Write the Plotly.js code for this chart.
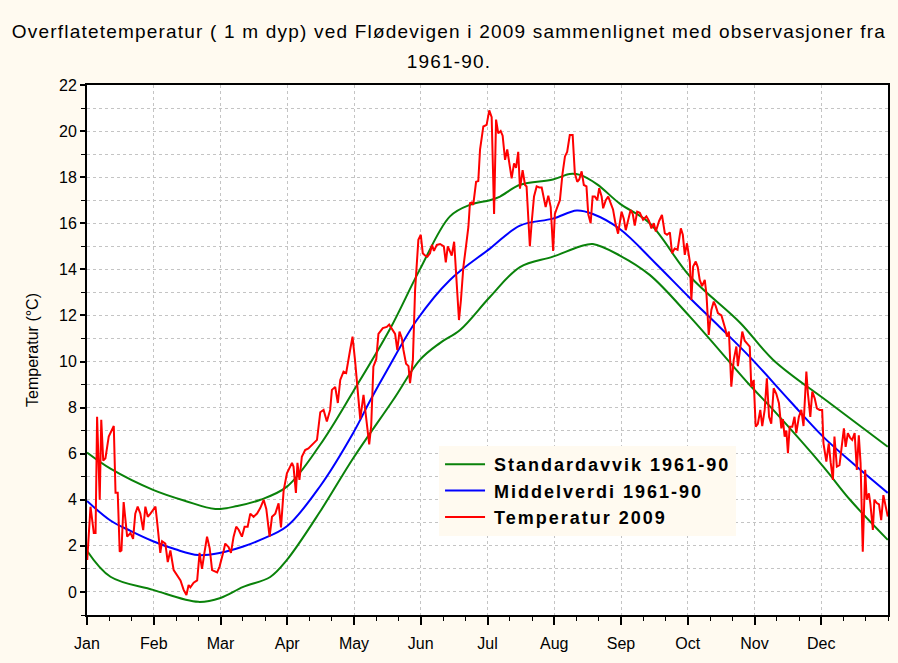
<!DOCTYPE html>
<html>
<head>
<meta charset="utf-8">
<script src="https://cdn.plot.ly/plotly-3.0.1.min.js"></script>
<style>
html,body{margin:0;padding:0;background:#FFFAF0;}
#chart{width:898px;height:663px;}
.gtitle{letter-spacing:1.2px;}
.legendtext{letter-spacing:2px;}
</style>
</head>
<body>
<div id="chart"></div>
<script>
// Month labels (x axis: day of year, months equally spaced)
var monthLabels = ["Jan","Feb","Mar","Apr","May","Jun","Jul","Aug","Sep","Oct","Nov","Dec"];

// Middelverdi 1961-90 (blue)
var meanDay = [0, 10.7, 19.8, 30.1, 40.3, 50.7, 60.8, 71.2, 79, 91.1, 106.3, 121.3, 129, 136.6, 150.3, 165.4, 183.6, 197.3, 212.3, 223.2, 230.5, 242.8, 258.7, 274.7, 288.3, 302, 320.2, 335.5, 350, 364.9];
var meanVal = [3.95, 3.1, 2.65, 2.2, 1.85, 1.6, 1.7, 1.97, 2.26, 2.85, 4.6, 6.9, 8.3, 9.6, 11.8, 13.54, 14.9, 15.9, 16.2, 16.55, 16.4, 15.75, 14.3, 12.76, 11.5, 10.2, 8.3, 6.73, 5.5, 4.3];

// Standardavvik 1961-90 upper (green)
var upperDay = [0, 10.7, 30.1, 44.8, 58.5, 68.5, 79, 91.1, 106.3, 121.3, 138, 151.7, 165.4, 174.5, 183.6, 188.2, 197.3, 212.3, 220, 224.6, 232.3, 242.8, 256.4, 274.7, 297.7, 312.7, 338.4, 364.9];
var upperVal = [6.05, 5.35, 4.43, 3.95, 3.6, 3.73, 4.0, 4.57, 6.4, 8.7, 11.4, 14.0, 16.3, 16.8, 17.0, 17.16, 17.67, 17.9, 18.14, 18.1, 17.7, 16.85, 16.0, 13.7, 11.67, 10.07, 8.2, 6.3];

// Standardavvik 1961-90 lower (green)
var lowerDay = [0, 10.7, 30.1, 50.7, 60.8, 71.2, 83.5, 91.1, 106.3, 121.3, 139.5, 151.7, 160.8, 170, 183.6, 197.3, 212.3, 224.6, 230.5, 242.8, 256.4, 274.7, 302, 312.7, 335.5, 347.7, 364.9];
var lowerVal = [1.79, 0.66, 0.09, -0.43, -0.26, 0.22, 0.65, 1.39, 3.5, 5.8, 8.33, 10.07, 10.8, 11.37, 12.8, 14.1, 14.55, 14.99, 15.1, 14.6, 13.76, 11.95, 8.98, 7.9, 5.44, 4.0, 2.26];

// Temperatur 2009 (red)
var tempDay = [0.1,1.6,2.4,3.1,3.9,4.6,5.8,6.5,7.4,8.4,9.9,11.5,12.2,13,14,14.9,15.7,16.7,18.3,19.8,21,22,23.1,24.3,25.6,26.6,27.7,28.9,31.2,31.9,33.4,34.2,35.7,36.8,38,39.5,41,42.6,44,45.3,46.3,47.1,48.6,50.2,51.3,52.4,53.5,54.7,55.9,57,59.3,60.4,62.3,63,64.5,65.6,66.8,68,69.1,70.6,71.8,73.2,74.4,75.9,77.5,79,80.5,81.7,83.2,84.3,85.8,87.3,88.4,89.6,91.1,92.6,93.4,94.1,95.2,95.9,96.8,97.9,99.4,100.9,103.2,104.8,106.3,107.8,109.3,110.8,111.6,113.1,114.3,115.4,116.9,118.1,119.9,121,122.2,123.2,124.5,126,127.2,128.6,129.5,130.5,131.8,132.8,134.8,136.6,137.7,139,140.4,141.4,142.4,143.5,144.2,145.4,146.5,147.2,148.5,149.5,150.3,151,152.1,153,154,155.1,156.3,157.2,158.1,159.4,160.9,162.6,163.5,164.4,165.3,166.2,167.3,168.2,168.8,169.5,170.4,171.5,172.7,173.8,174.5,175.3,176,177.3,178.3,179.1,180.6,182.1,183.3,184.4,185.5,186.4,187.4,188.5,189.4,190.5,191.5,192.7,193.5,194.6,195.5,196.5,197.3,198.5,199.6,200.3,201.1,201.8,202.6,203.7,204.9,206.1,207.2,207.9,209,210.2,211.3,212.4,213.2,214.3,215.5,216.7,217.8,218.8,220,221.3,222.3,223.4,224.3,225.4,226.4,227.6,228.4,229.5,230.4,231.4,232.5,233.4,234.5,235.2,236.4,237.5,238.5,239.7,240.8,242,243.6,244.6,245.5,246.6,247.7,248.7,249.6,250.7,251.9,253.4,254.9,256.1,257.2,258.3,259.2,260.7,262,263.3,264.3,265.6,266.6,267.8,269.1,270.6,271.5,272.4,273.4,274.7,275.4,276.2,277.4,278.3,279.2,280.3,281.5,282.3,283.3,284.5,285.6,286.5,287.5,289.1,289.8,291,291.6,292.5,293.6,294.7,295.9,296.6,297.7,298.6,299.7,300.8,302,302.7,303.8,304.7,305.7,306.8,307.7,308.8,309.8,310.8,311.8,312.9,314.1,315.3,316.4,317.1,317.9,318.7,319.4,320.2,321.4,322.4,323.2,324.4,325.5,326.5,327.8,328.5,329.6,330.5,331.6,332.6,333.8,335,335.6,336.9,338,338.9,339.9,340.6,341.7,342.9,343.8,344.9,345.7,346.7,347.7,348.7,349.8,350.8,351.7,352.5,353.5,354.6,355.3,356.3,357,358.1,358.8,359.9,360.9,361.9,362.9,363.9,364.9];
var tempVal = [1.39,3.7,3.1,2.56,2.56,7.6,4.0,7.47,5.7,5.8,6.74,7.1,7.2,4.3,4.3,1.75,1.8,3.9,2.4,2.56,2.3,3.4,3.7,3.4,2.68,3.7,3.26,3.4,3.7,3.1,1.7,2.2,2.1,1.3,1.8,0.95,0.72,0.5,0.1,-0.13,0.3,0.2,0.4,0.5,1.7,1.0,1.7,2.4,1.9,0.95,0.85,1.1,1.8,2.1,1.95,1.7,2.4,2.83,2.7,2.4,2.83,2.83,3.4,3.26,3.4,3.65,4.0,3.6,2.4,3.26,3.4,3.85,2.8,4.4,5.15,5.44,5.6,5.44,4.3,5.6,4.86,5.87,6.16,6.23,6.45,6.6,7.8,7.9,7.4,7.9,8.77,8.9,8.2,9.2,9.56,9.5,10.5,11.08,10.0,8.9,7.5,8.55,7.5,6.4,7.2,9.78,10.1,11.2,11.45,11.5,11.6,11.4,11.2,10.5,11.3,11.0,10.5,9.9,9.8,9.06,10.07,13.1,14.1,15.28,15.5,14.7,14.6,14.55,14.7,15.06,14.8,15.06,15.1,15.0,14.3,15.0,14.8,14.6,15.2,13.8,12.5,11.8,12.67,14.1,15.0,15.85,16.87,16.9,16.8,17.8,17.83,19.2,20.2,20.27,20.9,20.6,16.4,20.5,19.9,20.0,19.8,18.75,19.2,18.46,17.95,18.6,18.4,19.1,17.5,18.3,17.66,17.6,16.15,15.0,16.0,17.16,17.6,17.55,17.55,17.15,16.7,17.2,16.7,14.8,16.4,16.7,17.0,18.17,18.9,19.1,19.83,19.83,18.17,17.8,17.9,18.25,17.66,17.6,16.4,16.0,17.16,17.16,17.0,17.52,17.16,16.65,17.0,17.16,16.9,16.6,16.0,15.55,16.5,16.2,15.7,16.2,16.58,16.4,15.9,16.5,16.45,16.15,16.3,16.1,15.78,16.0,15.64,16.1,16.36,15.57,15.5,15.6,14.7,14.9,14.85,15.78,15.5,14.63,15.13,14.34,12.67,14.12,14.34,14.1,13.54,13.27,13.54,12.89,11.15,12.24,12.6,12.4,12.1,12.0,11.8,11.37,11.08,11.3,8.91,10.07,10.65,9.8,10.6,11.3,10.9,10.8,10.65,8.9,9.2,7.17,7.3,7.9,7.2,7.9,9.27,7.6,7.3,8.84,8.6,8.19,7.1,7.5,6.74,7.0,6.02,7.17,7.17,7.6,6.89,7.6,7.9,7.2,9.56,8.62,7.6,8.7,8.4,7.97,7.9,7.9,6.45,5.66,6.45,5.6,4.86,6.74,5.44,5.5,6.3,7.1,6.3,6.89,6.7,6.6,6.9,5.3,6.8,5.6,1.75,5.3,4.0,4.28,3.8,2.69,4.0,3.86,3.8,3.12,4.2,3.7,3.27];

var monthStep = 365 / 12;
var monthTicks = monthLabels.map(function (m, i) { return i * monthStep; });

var FONT = "Arial, 'Liberation Sans', sans-serif";
var GREEN = "#0A820A", BLUE = "#0000FF", RED = "#FF0000";

var traces = [
  {x: upperDay, y: upperVal, type: "scatter", mode: "lines", name: "Standardavvik 1961-90",
   line: {color: GREEN, width: 2, shape: "spline", smoothing: 1}, legendgroup: "g1"},
  {x: lowerDay, y: lowerVal, type: "scatter", mode: "lines", name: "Standardavvik 1961-90",
   line: {color: GREEN, width: 2, shape: "spline", smoothing: 1}, showlegend: false, legendgroup: "g1"},
  {x: meanDay, y: meanVal, type: "scatter", mode: "lines", name: "Middelverdi 1961-90",
   line: {color: BLUE, width: 2, shape: "spline", smoothing: 1}, legendgroup: "g2"},
  {x: tempDay, y: tempVal, type: "scatter", mode: "lines", name: "Temperatur 2009",
   line: {color: RED, width: 2}, legendgroup: "g3"}
];

var gridCol = "#C4C4C4";
var layout = {
  width: 898, height: 663,
  paper_bgcolor: "#FFFAF0",
  plot_bgcolor: "#FFFFFF",
  margin: {l: 86.5, r: 9.5, t: 85, b: 48},
  font: {family: FONT, color: "#000", size: 16},
  title: {
    text: "Overflatetemperatur ( 1 m dyp) ved Flødevigen i 2009 sammenlignet med observasjoner fra<br>1961-90.",
    x: 0.5, xanchor: "center", xref: "container",
    y: 0.943, yanchor: "top", yref: "container",
    font: {family: FONT, size: 19, color: "#000"}
  },
  xaxis: {
    range: [0, 365], tickmode: "array", tickvals: monthTicks, ticktext: monthLabels,
    ticks: "outside", ticklen: 8, tickwidth: 2, tickcolor: "#000",
    showline: true, linecolor: "#000", linewidth: 2, mirror: true,
    showgrid: true, gridcolor: gridCol, griddash: "dot", gridwidth: 1,
    zeroline: false, tickfont: {size: 16}, ticklabelstandoff: 5,
    minor: {tickmode: "linear", tick0: 0, dtick: 365 / 36, ticks: "outside", ticklen: 4, tickwidth: 1, tickcolor: "#000", showgrid: false}
  },
  yaxis: {
    range: [-1, 22], tickmode: "linear", tick0: 0, dtick: 2,
    ticks: "outside", ticklen: 5, tickwidth: 2, tickcolor: "#000",
    showline: true, linecolor: "#000", linewidth: 2, mirror: true,
    showgrid: true, gridcolor: gridCol, griddash: "dot", gridwidth: 1,
    zeroline: false, tickfont: {size: 16},
    title: {text: "Temperatur (°C)", font: {size: 16}, standoff: 16},
    minor: {tickmode: "linear", tick0: 1, dtick: 2, ticks: "outside", ticklen: 4, tickwidth: 1, tickcolor: "#000", showgrid: true, gridcolor: gridCol, griddash: "dot", gridwidth: 1}
  },
  xaxis2: {
    overlaying: "x", side: "top", range: [0, 365], tickmode: "array", tickvals: monthTicks,
    showticklabels: false, ticks: "inside", ticklen: 5, tickwidth: 1, tickcolor: "#000",
    showgrid: false, zeroline: false, showline: false,
    minor: {tickmode: "linear", tick0: 0, dtick: 365 / 36, ticks: "inside", ticklen: 5, tickwidth: 1, tickcolor: "#000", showgrid: false}
  },
  yaxis2: {
    overlaying: "y", side: "right", range: [-1, 22], tickmode: "linear", tick0: 0, dtick: 1,
    showticklabels: false, ticks: "inside", ticklen: 4, tickwidth: 2, tickcolor: "#000",
    showgrid: false, zeroline: false, showline: false
  },
  showlegend: true,
  legend: {
    x: 0.4395, xanchor: "left", y: 0.3189, yanchor: "top",
    bgcolor: "#FFFAF0", borderwidth: 0,
    font: {family: FONT, size: 18, color: "#000", weight: "bold"},
    traceorder: "normal", tracegroupgap: 4, itemwidth: 45
  }
};

Plotly.newPlot("chart", traces, layout, {displayModeBar: false, staticPlot: true}).then(function (gd) {
  // longer legend line samples, as in the original legend
  gd.querySelectorAll(".legendlines path").forEach(function (p) { p.setAttribute("d", "M6,0h40"); });
  // wider spacing between the two title lines, as in the original
  var lines = gd.querySelectorAll(".gtitle tspan.line");
  if (lines.length > 1) { lines[1].setAttribute("dy", "1.6em"); }
});
</script>
</body>
</html>
